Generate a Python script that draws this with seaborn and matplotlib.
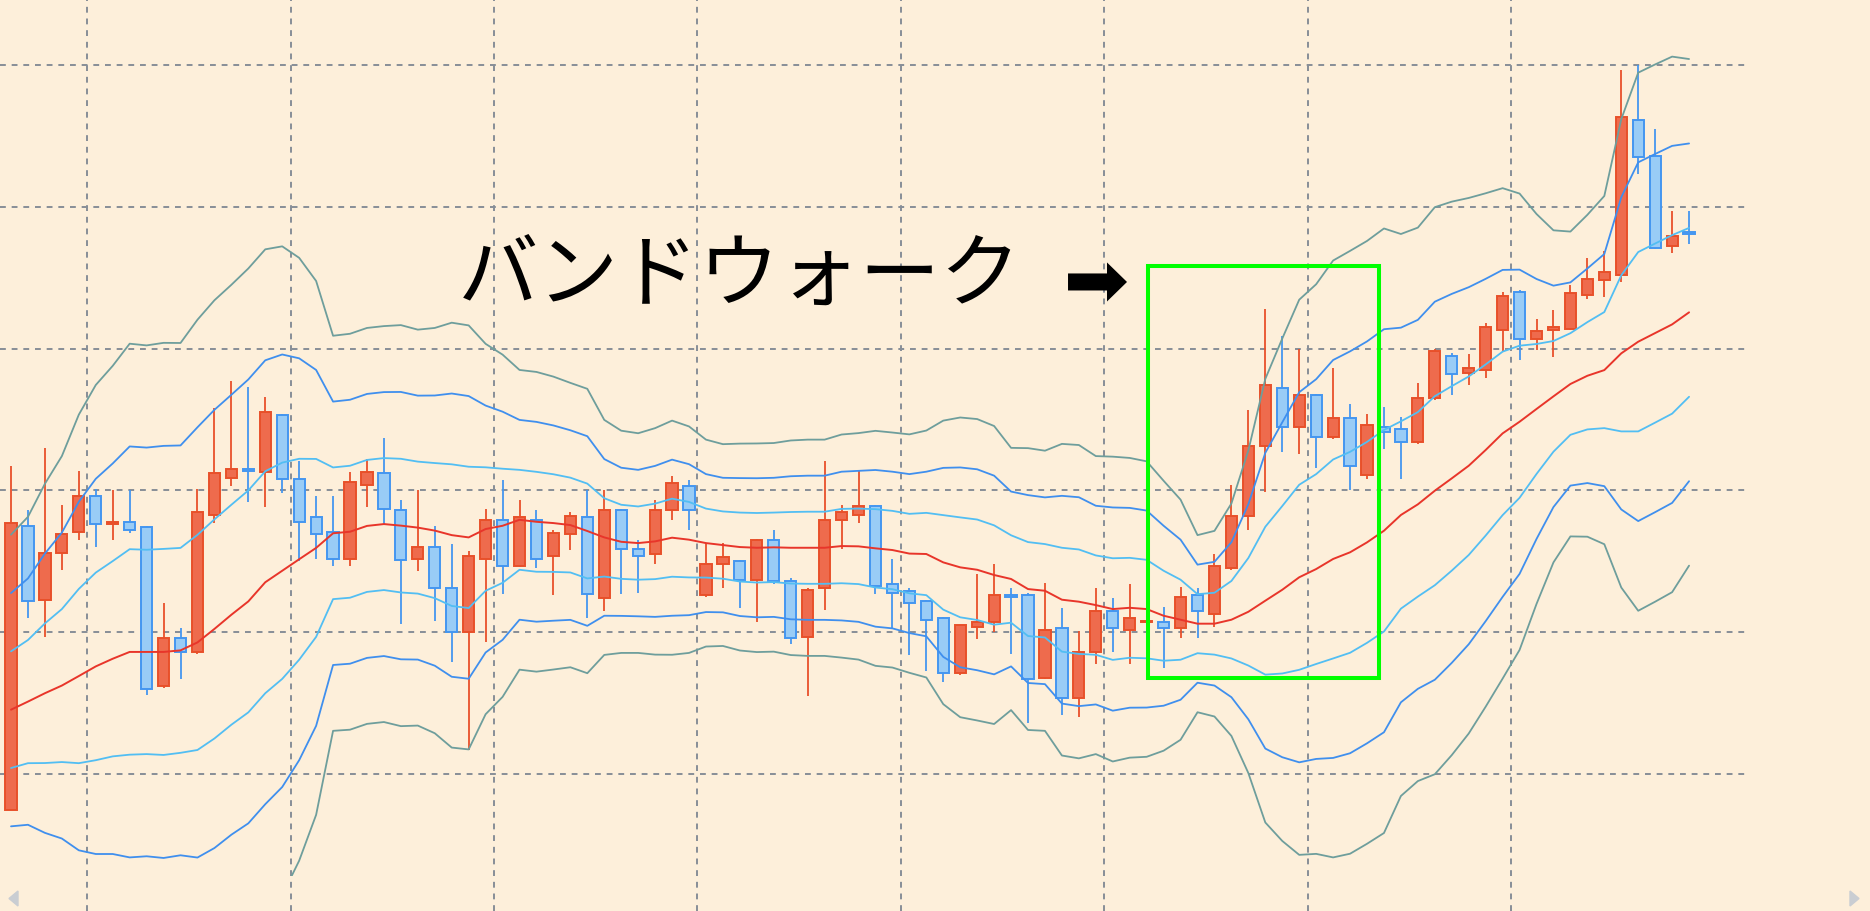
import numpy as np
import matplotlib
matplotlib.use('Agg')
import matplotlib.pyplot as plt
import seaborn as sns
from matplotlib.patches import Rectangle, FancyArrow, Polygon

# candles (arbitrary price units: grid step = 100)
opens = [975, 1175, 1123, 1156, 1171, 1196, 1176, 1178, 1174, 1062,
         1096, 1086, 1183, 1209, 1215, 1213, 1253, 1208, 1181, 1171,
         1152, 1204, 1212, 1186, 1152, 1160, 1131, 1100, 1152, 1179,
         1147, 1179, 1154, 1169, 1181, 1124, 1186, 1159, 1155, 1186,
         1203, 1126, 1148, 1150, 1137, 1165, 1136, 1097, 1131, 1179,
         1183, 1189, 1134, 1129, 1122, 1110, 1071, 1104, 1107, 1126,
         1126, 1068, 1103, 1054, 1086, 1115, 1102, 1107, 1107, 1103,
         1126, 1113, 1145, 1182, 1231, 1272, 1245, 1267, 1238, 1251,
         1211, 1245, 1243, 1234, 1265, 1295, 1283, 1285, 1313, 1340,
         1307, 1313, 1314, 1338, 1348, 1352, 1461, 1436, 1372, 1382]
highs = [1217, 1186, 1230, 1190, 1214, 1201, 1200, 1200, 1175, 1121,
         1103, 1201, 1258, 1277, 1273, 1266, 1254, 1221, 1196, 1196,
         1213, 1222, 1237, 1193, 1200, 1175, 1162, 1157, 1187, 1207,
         1193, 1186, 1172, 1185, 1200, 1200, 1187, 1165, 1193, 1210,
         1207, 1163, 1163, 1151, 1166, 1172, 1138, 1131, 1221, 1190,
         1214, 1190, 1152, 1131, 1123, 1111, 1105, 1141, 1148, 1131,
         1128, 1135, 1117, 1101, 1131, 1124, 1134, 1127, 1118, 1132,
         1131, 1155, 1204, 1257, 1328, 1309, 1300, 1268, 1286, 1261,
         1254, 1259, 1252, 1276, 1300, 1297, 1296, 1318, 1340, 1341,
         1321, 1327, 1345, 1364, 1369, 1496, 1500, 1455, 1397, 1397]
lows = [975, 1110, 1097, 1144, 1165, 1160, 1165, 1170, 1056, 1061,
        1067, 1085, 1177, 1203, 1192, 1188, 1198, 1150, 1152, 1147,
        1147, 1188, 1176, 1106, 1143, 1108, 1079, 1017, 1093, 1127,
        1146, 1145, 1126, 1158, 1110, 1115, 1127, 1128, 1148, 1179,
        1172, 1125, 1131, 1117, 1107, 1134, 1092, 1055, 1116, 1159,
        1177, 1127, 1103, 1084, 1073, 1065, 1070, 1095, 1100, 1085,
        1036, 1067, 1042, 1040, 1078, 1086, 1078, 1100, 1075, 1096,
        1096, 1104, 1144, 1172, 1199, 1227, 1226, 1216, 1236, 1200,
        1208, 1229, 1208, 1233, 1264, 1267, 1274, 1279, 1298, 1292,
        1299, 1294, 1313, 1335, 1336, 1347, 1423, 1370, 1367, 1374]
closes = [1177, 1122, 1156, 1169, 1196, 1176, 1178, 1172, 1060, 1096,
          1086, 1185, 1212, 1215, 1214, 1255, 1208, 1178, 1169, 1152,
          1206, 1213, 1187, 1151, 1160, 1131, 1100, 1154, 1179, 1147,
          1181, 1152, 1170, 1182, 1127, 1186, 1159, 1154, 1186, 1205,
          1186, 1148, 1153, 1137, 1165, 1136, 1096, 1130, 1179, 1185,
          1189, 1133, 1128, 1121, 1109, 1071, 1105, 1107, 1126, 1125,
          1067, 1102, 1054, 1086, 1115, 1103, 1110, 1108, 1103, 1125,
          1115, 1147, 1182, 1231, 1274, 1245, 1267, 1238, 1251, 1217,
          1246, 1241, 1234, 1265, 1298, 1282, 1286, 1315, 1337, 1307,
          1312, 1315, 1339, 1349, 1354, 1463, 1435, 1371, 1379, 1381]

# bollinger middle line and band width (one sigma)
mid = [1045.5, 1051.2, 1057.1, 1062.5, 1069.2, 1076.0, 1081.4, 1086.2, 1086.2, 1086.2,
       1087.3, 1092.9, 1102.4, 1112.4, 1121.8, 1135.3, 1143.4, 1151.5, 1159.5, 1169.8,
       1170.9, 1175.0, 1176.3, 1175.2, 1173.8, 1171.7, 1168.5, 1166.9, 1172.8, 1175.1,
       1179.3, 1177.9, 1177.0, 1175.6, 1171.4, 1166.9, 1163.8, 1162.9, 1164.1, 1166.7,
       1165.3, 1162.9, 1161.5, 1160.1, 1159.6, 1159.9, 1159.6, 1159.6, 1159.6, 1160.8,
       1160.6, 1159.2, 1158.0, 1155.5, 1155.2, 1149.3, 1145.8, 1144.1, 1140.4, 1137.6,
       1130.5, 1129.3, 1123.0, 1121.6, 1119.2, 1116.4, 1117.3, 1116.4, 1111.7, 1108.9,
       1106.1, 1106.1, 1108.9, 1114.5, 1122.3, 1130.0, 1138.8, 1144.6, 1151.7, 1156.4,
       1163.4, 1171.6, 1182.7, 1190.2, 1199.8, 1208.5, 1217.4, 1228.5, 1240.2, 1248.4,
       1257.4, 1266.3, 1275.0, 1280.8, 1284.8, 1296.6, 1304.8, 1310.9, 1317.0, 1325.5]
sigma = [41.1, 43.4, 49.2, 53.9, 61.4, 66.1, 68.8, 72.4, 72.0, 72.6,
         72.2, 75.8, 77.2, 77.5, 78.2, 78.2, 76.2, 70.8, 62.7, 46.4,
         46.5, 46.5, 46.5, 47.1, 46.5, 47.6, 49.9, 49.8, 43.5, 40.2,
         35.2, 35.2, 34.4, 33.4, 33.4, 27.6, 26.1, 25.8, 26.6, 27.5,
         26.6, 24.3, 23.7, 24.3, 24.5, 24.5, 25.2, 25.4, 25.4, 26.2,
         26.6, 27.6, 27.6, 28.0, 29.0, 33.3, 35.2, 35.4, 35.0, 30.8,
         33.1, 32.9, 36.6, 36.8, 35.0, 35.8, 35.2, 34.7, 31.7, 28.2,
         20.8, 21.8, 27.3, 37.9, 52.1, 59.0, 65.2, 66.9, 70.1, 70.8,
         70.8, 71.0, 66.0, 65.0, 66.6, 65.0, 62.9, 60.3, 57.6, 53.6,
         45.8, 39.0, 35.8, 37.8, 40.9, 55.0, 63.2, 63.1, 62.9, 59.5]

grid_levels = [1000, 1100, 1200, 1300, 1400, 1500]
label = 'バンドウォーク'
walk_first, walk_last = 67.1, 80.7     # candle span of the green box
walk_low, walk_high = 1068, 1358

bg = '#FDEFDA'
up_fill, up_edge = '#EE6B4D', '#E8502A'
dn_fill, dn_edge = '#99CCF6', '#4496F0'
band_colors = {1: '#52BEF3', 2: '#3F8FEE', 3: '#6E9E9C'}
grid_kw = dict(color='#878E97', lw=1.4, linestyle=(0, (3, 3)))

sns.set_style('white')
plt.rcParams['font.family'] = ['Noto Sans CJK JP', 'DejaVu Sans']

W, H = 1870, 912
plot_bottom = 877      # price area stops above the (hidden) time scale
fig = plt.figure(figsize=(W / 100, H / 100), dpi=100, facecolor=bg)
ax = fig.add_axes([0, (H - plot_bottom) / H, 1745 / W, plot_bottom / H])
ax.set_facecolor(bg)

x = np.arange(len(opens))
o, h, l, c = (np.array(v, dtype=float) for v in (opens, highs, lows, closes))
up = c >= o
bottom = np.minimum(o, c)
height = np.maximum(np.abs(c - o), 0.3)

for mask, fill, edge in ((up, up_fill, up_edge), (~up, dn_fill, dn_edge)):
    ax.vlines(x[mask], l[mask], h[mask], color=edge, lw=1.3, zorder=2)
    ax.bar(x[mask], height[mask], bottom=bottom[mask], width=0.66,
           color=fill, edgecolor=edge, linewidth=1.4, zorder=3)

m = np.array(mid)
s = np.array(sigma)
sns.lineplot(x=x, y=m, color='#E8352A', lw=1.4, ax=ax, zorder=4)
for k, col in band_colors.items():
    sns.lineplot(x=x, y=m + k * s, color=col, lw=1.3, ax=ax, zorder=4)
    sns.lineplot(x=x, y=m - k * s, color=col, lw=1.3, ax=ax, zorder=4)

# grid: horizontal price levels, vertical separators every 12 bars
ax.set_yticks(grid_levels)
ax.grid(True, axis='y', **grid_kw)
ax.set_axisbelow(True)
below = -(H - plot_bottom) / plot_bottom
for xv in np.arange(4.5, len(opens), 12):
    ax.axvline(xv, ymin=below, ymax=1, clip_on=False, zorder=0.5, **grid_kw)
ax.set_xticks([])
ax.tick_params(length=0, labelbottom=False, labelleft=False)
for sp in ax.spines.values():
    sp.set_visible(False)
ax.set_xlim(-0.65, 102.3)
ax.set_ylim(928.3, 1546.3)

ax.text(43.0, 1350.7, label, fontsize=58, ha='center', va='center',
        color='black', zorder=6)
ax.add_patch(FancyArrow(62.36, 1346.9, 3.48, 0, width=12, head_width=27.5,
                        head_length=1.18, length_includes_head=True,
                        color='black', lw=0, zorder=6))
ax.add_patch(Rectangle((walk_first, walk_low), walk_last - walk_first,
                       walk_high - walk_low, fill=False, edgecolor='#00FF00',
                       lw=2.9, zorder=5))

# little scroll arrows in the bottom corners
fig.patches.append(Polygon([(9 / W, 1 - 899.5 / H), (18 / W, 1 - 892 / H), (18 / W, 1 - 907 / H)],
                           closed=True, transform=fig.transFigure, color='#C9CDD2'))
fig.patches.append(Polygon([(1859 / W, 1 - 899.5 / H), (1850 / W, 1 - 892 / H), (1850 / W, 1 - 907 / H)],
                           closed=True, transform=fig.transFigure, color='#C9CDD2'))

fig.savefig('out.png', dpi=100, facecolor=bg)
